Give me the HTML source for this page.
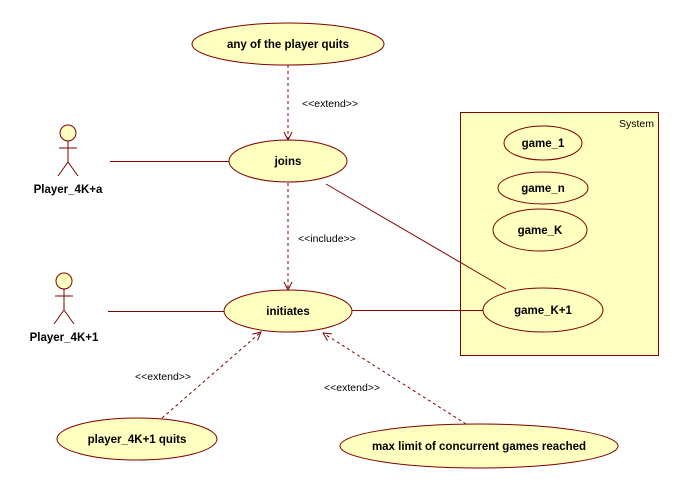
<!DOCTYPE html>
<html><head><meta charset="utf-8"><style>
html,body{margin:0;padding:0;background:#fff;}
svg{display:block;}
text{font-family:"Liberation Sans",sans-serif;}
.b{font-weight:bold;font-size:11.5px;fill:#000;}
.s{font-size:10.5px;fill:#000;}
</style></head><body>
<svg width="687" height="488" viewBox="0 0 687 488">
<defs>
<marker id="a" markerWidth="10" markerHeight="10" refX="9" refY="5" orient="auto" markerUnits="userSpaceOnUse">
<path d="M1,1 L9,5 L1,9" fill="none" stroke="#800000" stroke-width="1"/>
</marker>
</defs>
<g stroke="#800000" fill="#ffffc0" stroke-width="1">
<rect x="460.5" y="112.5" width="198" height="243"/>
<ellipse cx="288" cy="44" rx="96" ry="21"/>
<ellipse cx="288" cy="161" rx="59" ry="21"/>
<ellipse cx="288" cy="311" rx="64" ry="21"/>
<ellipse cx="543" cy="143" rx="39" ry="17"/>
<ellipse cx="543" cy="188" rx="45" ry="16"/>
<ellipse cx="540" cy="230" rx="47" ry="21"/>
<ellipse cx="543" cy="310" rx="60" ry="22"/>
<ellipse cx="137" cy="439" rx="80" ry="21"/>
<ellipse cx="479" cy="446" rx="139" ry="22"/>
<circle cx="68" cy="133" r="8"/>
<circle cx="64" cy="281" r="8"/>
</g>
<g stroke="#800000" fill="none" stroke-width="1">
<path d="M68 141 V162 M59 148 H77 M68 162 L58 176 M68 162 L78 176"/>
<path d="M64 289 V310 M55 296 H73 M64 310 L54 324 M64 310 L74 324"/>
<path d="M110 161.5 H229 M108 311.5 H224 M352 310.5 H483 M326 184 L506 289"/>
<g stroke-dasharray="3,3">
<path d="M288 65 V140" marker-end="url(#a)"/>
<path d="M288 183 V290" marker-end="url(#a)"/>
<path d="M162 418 L261 332" marker-end="url(#a)"/>
<path d="M466 424 L323 333" marker-end="url(#a)"/>
</g>
</g>
<text class="b" x="288" y="48" text-anchor="middle">any of the player quits</text>
<text class="b" x="288" y="165" text-anchor="middle">joins</text>
<text class="b" x="288" y="315" text-anchor="middle">initiates</text>
<text class="b" x="543" y="147" text-anchor="middle">game_1</text>
<text class="b" x="543" y="192" text-anchor="middle">game_n</text>
<text class="b" x="540" y="234" text-anchor="middle">game_K</text>
<text class="b" x="543" y="314" text-anchor="middle">game_K+1</text>
<text class="b" x="137" y="443" text-anchor="middle">player_4K+1 quits</text>
<text class="b" x="479" y="450" text-anchor="middle">max limit of concurrent games reached</text>
<text class="b" x="68" y="193" text-anchor="middle">Player_4K+a</text>
<text class="b" x="64" y="341" text-anchor="middle">Player_4K+1</text>
<text class="s" x="654" y="127" text-anchor="end">System</text>
<text class="s" x="302" y="107">&lt;&lt;extend&gt;&gt;</text>
<text class="s" x="298" y="242">&lt;&lt;include&gt;&gt;</text>
<text class="s" x="135" y="380">&lt;&lt;extend&gt;&gt;</text>
<text class="s" x="324" y="391">&lt;&lt;extend&gt;&gt;</text>
</svg>
</body></html>
